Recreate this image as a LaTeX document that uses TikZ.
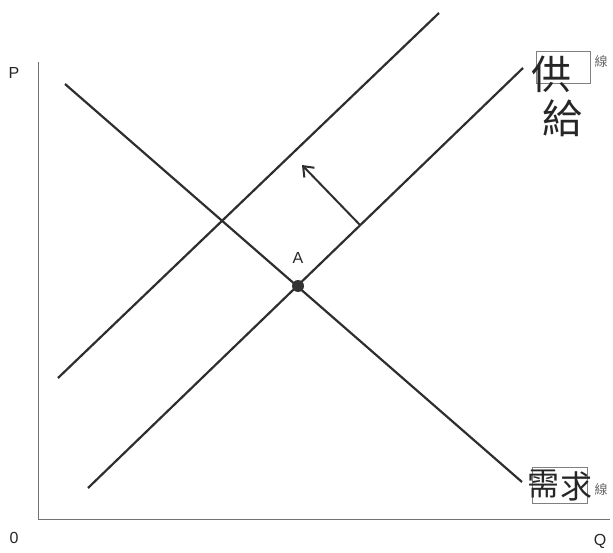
\documentclass[tikz,border=0pt]{standalone}
\usepackage{fontspec}
\setmainfont{Liberation Sans}
\newfontfamily\cjk{Noto Sans CJK TC}
\usetikzlibrary{arrows.meta}
\begin{document}
\begin{tikzpicture}[x=1pt,y=-1pt,
  curve/.style={draw=black!82, line width=2.2pt},
  axis/.style={draw=black!55, line width=1pt},
  lbl/.style={font=\fontsize{16}{16}\selectfont, text=black!85, inner sep=0pt},
  hand/.style={font=\cjk\fontsize{40}{40}\selectfont, text=black!85, inner sep=0pt},
  lineword/.style={font=\cjk\fontsize{13}{13}\selectfont, text=black!60, inner sep=0pt},
  tagbox/.style={draw=black!50, line width=0.8pt}]
\useasboundingbox (0,0) rectangle (613,553);
% axes
\coordinate (ytop) at (38,62);
\coordinate (org) at (38,519);
\coordinate (xend) at (610,519);
\draw[axis] (ytop) -- (org) -- (xend);
\node[lbl] (P) at (14,73) {P};
\node[lbl] (O) at (14,538) {0};
\node[lbl] (Q) at (600,541) {Q};
% curves
\coordinate (d1) at (65,84);
\coordinate (d2) at (522,482);
\coordinate (s1) at (88,488);
\coordinate (s2) at (523,68);
\coordinate (n1) at (58,378);
\coordinate (n2) at (439,13);
\draw[curve] (d1) -- (d2);
\draw[curve] (s1) -- (s2);
\draw[curve] (n1) -- (n2);
% arrow
\coordinate (abase) at (360,225);
\coordinate (atip) at (302,165);
\draw[curve, line width=2pt, -{Straight Barb[length=9pt,width=14pt]}] (abase) -- (atip);
% point A
\node[circle, fill=black!80, minimum size=12pt, inner sep=0pt] (A) at (298,286) {};
\node[lbl] (Alab) at (298,258) {A};
% supply tag
\draw[tagbox] (536,51) rectangle (590,83);
\node[lineword] (w1) at (601,62) {線};
\node[hand] (gong) at (551,74) {供};
\node[hand] (gei) at (562,118) {給};
% demand tag
\draw[tagbox] (532,467) rectangle (587,503);
\node[lineword] (w2) at (601,490) {線};
\node[hand, font=\cjk\fontsize{32}{32}\selectfont] (xu) at (543,484) {需};
\node[hand, font=\cjk\fontsize{32}{32}\selectfont] (qiu) at (576,486) {求};
\end{tikzpicture}
\end{document}
